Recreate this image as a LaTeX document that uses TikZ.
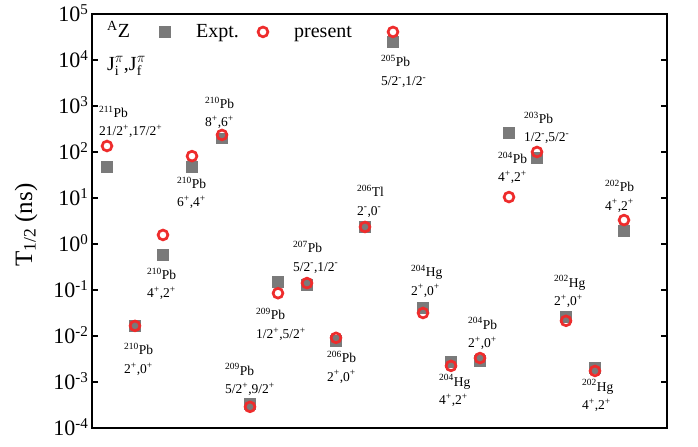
\documentclass[tikz,border=0pt]{standalone}
\usepackage{fontspec}
\setmainfont{Liberation Serif}
\usetikzlibrary{positioning}

\definecolor{exptgray}{RGB}{122,122,122}
\definecolor{presred}{RGB}{238,44,44}
\newcommand{\sps}[1]{\textsuperscript{#1}}
\newcommand{\decade}[1]{10\raisebox{0.36em}{\fontsize{15}{15}\selectfont #1}}

\begin{document}
\begin{tikzpicture}[x=1pt, y=46pt,
    exptmark/.style={rectangle, fill=exptgray, minimum size=11.5pt, inner sep=0pt},
    presmark/.style={circle, draw=presred, line width=2.7pt, minimum size=9.8pt, inner sep=0pt},
    isotope/.style={font=\fontsize{13.5}{16}\selectfont, inner sep=0pt},
    legendtext/.style={font=\fontsize{20}{24}\selectfont, inner sep=0pt, anchor=base west},
    ticklabel/.style={font=\fontsize{22}{26}\selectfont, inner sep=0pt, anchor=base east}
    ]
    \path[use as bounding box] (-92,-4.413) rectangle (606,5.304);

    % frame and ticks
    \draw[line width=2pt] (0,-4) rectangle (575,5);
    \foreach \k in {-3,...,4} {
      \draw[line width=2pt] (0,\k) -- ++(6,0);
      \draw[line width=2pt] (575,\k) -- ++(-6,0);
    };
    \foreach \k in {-4,...,5} {
      \node[ticklabel] (t\k) at ([xshift=-4pt,yshift=-8pt]0,\k) {\decade{\k}};
    };
    \node[rotate=90, font=\fontsize{25}{30}\selectfont, inner sep=0pt] (ylabel) at (-66,0.41) {T\textsubscript{1/2} (ns)};

    % legend
    \node[legendtext] (az) at (15,4.478) {\sps{A}Z};
    \node[exptmark] (lexpt) at (73,4.61) {};
    \node[legendtext] (lexpttext) at (104,4.478) {Expt.};
    \node[presmark] (lpres) at (171,4.61) {};
    \node[legendtext] (lprestext) at (202,4.478) {present};
    \node[legendtext] (spins) at (15,3.78) {J$_{\mathrm{i}}^{\pi}$,J$_{\mathrm{f}}^{\pi}$};

    % data: x / log T expt / log T present
    \foreach \x/\ye/\yp [count=\i] in {15/1.67/2.13, 130/2.29/2.37, 100/1.67/1.91,
        71/-0.24/0.196, 43/-1.78/-1.78, 158/-3.48/-3.54, 186/-0.83/-1.07,
        215/-0.89/-0.85, 244/-2.11/-2.04, 273/0.37/0.37, 301/4.39/4.61,
        331/-1.39/-1.5, 359/-2.57/-2.65, 388/-2.54/-2.48, 417/2.41/1.02,
        445/1.87/2.0, 474/-1.59/-1.67, 503/-2.70/-2.76, 532/0.28/0.52} {
      \node[exptmark] (e\i) at (\x,\ye) {};
      \node[presmark] (p\i) at (\x,\yp) {};
    };

    % labels
    \foreach \lx/\ly/\iso/\spin [count=\i] in {
        7/2.754/{\sps{211}Pb}/{21/2\sps{+},17/2\sps{+}},
        113/2.95/{\sps{210}Pb}/{8\sps{+},6\sps{+}},
        85/1.21/{\sps{210}Pb}/{6\sps{+},4\sps{+}},
        55/-0.77/{\sps{210}Pb}/{4\sps{+},2\sps{+}},
        32/-2.41/{\sps{210}Pb}/{2\sps{+},0\sps{+}},
        133/-2.85/{\sps{209}Pb}/{5/2\sps{+},9/2\sps{+}},
        164/-1.65/{\sps{209}Pb}/{1/2\sps{+},5/2\sps{+}},
        201/-0.19/{\sps{207}Pb}/{5/2\sps{-},1/2\sps{-}},
        235/-2.58/{\sps{206}Pb}/{2\sps{+},0\sps{+}},
        265/1.03/{\sps{206}Tl}/{2\sps{-},0\sps{-}},
        289/3.85/{\sps{205}Pb}/{5/2\sps{-},1/2\sps{-}},
        319/-0.71/{\sps{204}Hg}/{2\sps{+},0\sps{+}},
        347/-3.09/{\sps{204}Hg}/{4\sps{+},2\sps{+}},
        376/-1.85/{\sps{204}Pb}/{2\sps{+},0\sps{+}},
        406/1.75/{\sps{204}Pb}/{4\sps{+},2\sps{+}},
        432/2.62/{\sps{203}Pb}/{1/2\sps{-},5/2\sps{-}},
        462/-0.94/{\sps{202}Hg}/{2\sps{+},0\sps{+}},
        490/-3.2/{\sps{202}Hg}/{4\sps{+},2\sps{+}},
        513/1.14/{\sps{202}Pb}/{4\sps{+},2\sps{+}}} {
      \node[isotope, anchor=base west] (iso\i) at (\lx,\ly) {\iso};
      \node[isotope, below=18.5pt of iso\i.base west, anchor=base west] (spin\i) {\spin};
    };
\end{tikzpicture}
\end{document}
